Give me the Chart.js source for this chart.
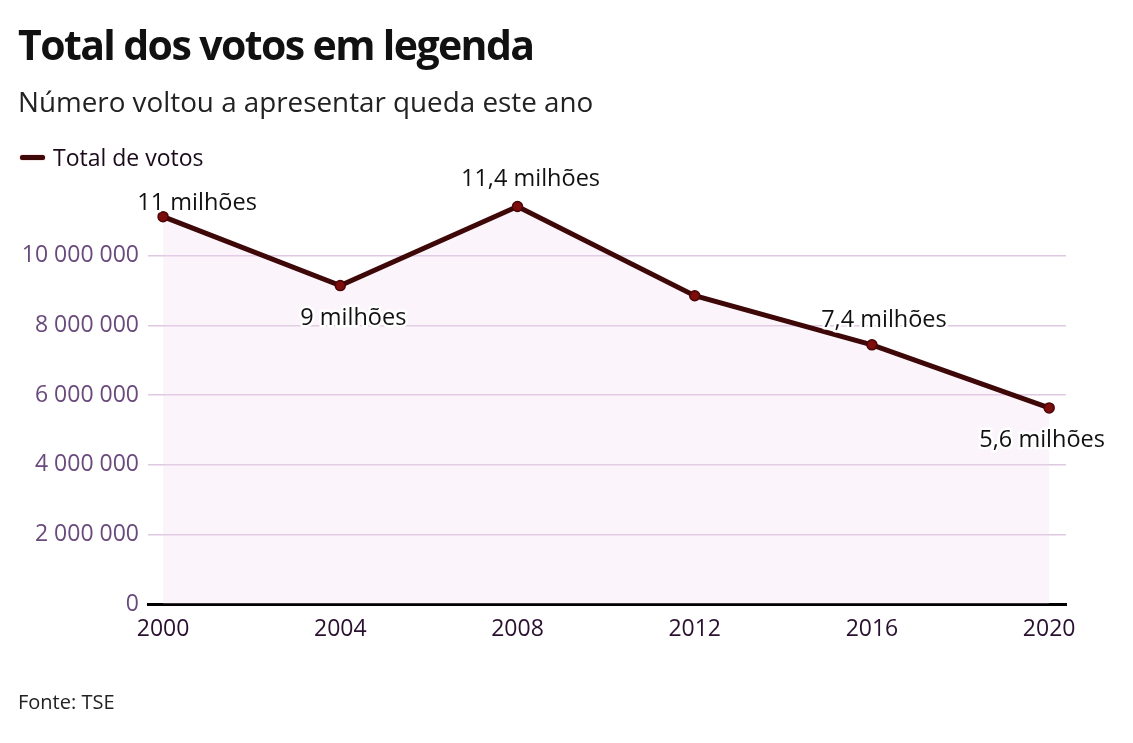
<!DOCTYPE html>
<html>
<head>
<meta charset="utf-8">
<script src="https://cdn.jsdelivr.net/npm/chart.js@4/dist/chart.umd.min.js"></script>
<style>
  html, body { margin:0; padding:0; background:#fff; }
  body { width:1133px; height:743px; position:relative; overflow:hidden; font-family:"Open Sans", sans-serif; }
  #title { position:absolute; left:18px; top:24px; font-size:41px; font-weight:700; letter-spacing:-1.6px; color:#111; line-height:1; white-space:nowrap; }
  #subtitle { position:absolute; left:18px; top:88px; font-size:27.8px; color:#222; line-height:1; white-space:nowrap; }
  #legend { position:absolute; left:20px; top:146px; font-size:23px; color:#1a0a1a; line-height:1; white-space:nowrap; display:flex; align-items:center; }
  #legend .sw { display:inline-block; width:25px; height:5px; border-radius:3px; background:#3e0808; box-shadow:0 0 1px #b01010; margin-right:8px; }
  #source { position:absolute; left:18px; top:692px; font-size:20px; color:#222; line-height:1; }
  #wrap { position:absolute; left:0; top:0; width:1133px; height:743px; }
</style>
</head>
<body>
<div id="wrap"><canvas id="c" width="1133" height="743"></canvas></div>
<div id="title">Total dos votos em legenda</div>
<div id="subtitle">Número voltou a apresentar queda este ano</div>
<div id="legend"><span class="sw"></span><span>Total de votos</span></div>
<div id="source">Fonte: TSE</div>
<script>
// ---- data ----
const years = [2000, 2004, 2008, 2012, 2016, 2020];
const votes = [11120000, 9140000, 11410000, 8850000, 7440000, 5630000];
const pointLabels = ["11 milhões", "9 milhões", "11,4 milhões", "", "7,4 milhões", "5,6 milhões"];
const xTicks = [2000, 2004, 2008, 2012, 2016, 2020];
const yTicks = [0, 2000000, 4000000, 6000000, 8000000, 10000000];
const seriesName = "Total de votos";

// label placement (offsets from point, px)
const labelOffsets = [[34,-13],[13,33],[13,-27],[0,0],[12,-25],[-7,32]];

function fmt(v){ return String(Math.round(v)).replace(/\B(?=(\d{3})+(?!\d))/g, " "); }

const labelPlugin = {
  id: 'pointLabels',
  afterDatasetsDraw(chart) {
    const ctx = chart.ctx;
    const meta = chart.getDatasetMeta(0);
    ctx.save();
    ctx.font = '23.5px "Open Sans"';
    ctx.textAlign = 'center';
    ctx.textBaseline = 'middle';
    ctx.lineJoin = 'round';
    meta.data.forEach((pt, i) => {
      const t = pointLabels[i];
      if (!t) return;
      const x = pt.x + labelOffsets[i][0], y = pt.y + labelOffsets[i][1];
      ctx.strokeStyle = '#fff';
      ctx.lineWidth = 5;
      ctx.strokeText(t, x, y);
      ctx.fillStyle = '#111';
      ctx.fillText(t, x, y);
    });
    ctx.restore();
  }
};

new Chart(document.getElementById('c'), {
  type: 'line',
  data: {
    datasets: [{
      label: seriesName,
      data: years.map((y, i) => ({ x: y, y: votes[i] })),
      borderColor: '#3e0808',
      borderWidth: 5,
      pointRadius: 5,
      pointBackgroundColor: '#7d0c0c',
      pointBorderColor: '#4a0606',
      pointBorderWidth: 1.5,
      fill: 'origin',
      backgroundColor: 'rgba(238, 214, 238, 0.25)',
      tension: 0,
      clip: false
    }]
  },
  options: {
    responsive: false,
    animation: false,
    events: [],
    layout: { padding: { top: 186, right: 67, left: 0, bottom: 0 } },
    plugins: { legend: { display: false }, tooltip: { enabled: false } },
    scales: {
      x: {
        type: 'linear',
        min: 1999.66,
        max: 2020.38,
        afterBuildTicks: s => { s.ticks = xTicks.map(v => ({ value: v })); },
        afterFit: s => { s.height = 139; },
        grid: { display: false, drawTicks: false },
        border: { display: true, color: '#000', width: 3 },
        ticks: {
          padding: 12,
          color: '#2a1030',
          font: { family: 'Open Sans', size: 23 },
          callback: v => String(v),
          autoSkip: false,
          maxRotation: 0
        }
      },
      y: {
        min: 0,
        max: 12000000,
        afterBuildTicks: s => { s.ticks = yTicks.map(v => ({ value: v })); },
        afterFit: s => { s.width = 148; },
        grid: { color: '#dfc8e2', lineWidth: 1.5, drawTicks: false },
        border: { display: false },
        ticks: {
          padding: 9,
          color: '#6a4a7c',
          font: { family: 'Open Sans', size: 23 },
          callback: v => fmt(v)
        }
      }
    }
  },
  plugins: [labelPlugin]
});
</script>
</body>
</html>
